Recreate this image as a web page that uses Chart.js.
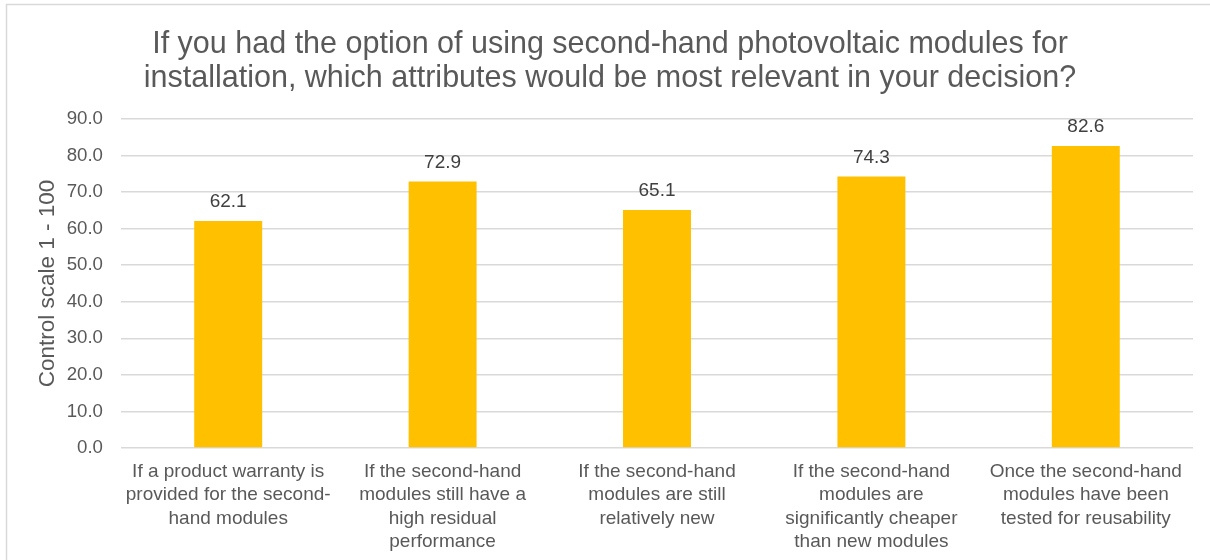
<!DOCTYPE html>
<html>
<head>
<meta charset="utf-8">
<script src="https://cdn.jsdelivr.net/npm/chart.js@4/dist/chart.umd.min.js"></script>
<style>
  html, body { margin: 0; padding: 0; background: #fff; }
  #wrap { width: 1210px; height: 560px; position: relative; }
</style>
</head>
<body>
<div id="wrap"><canvas id="c" width="1210" height="560"></canvas></div>
<script>
const titleLines = [
  "If you had the option of using second-hand photovoltaic modules for",
  "installation, which attributes would be most relevant in your decision?"
];
const categories = [
  ["If a product warranty is", "provided for the second-", "hand modules"],
  ["If the second-hand", "modules still have a", "high residual", "performance"],
  ["If the second-hand", "modules are still", "relatively new"],
  ["If the second-hand", "modules are", "significantly cheaper", "than new modules"],
  ["Once the second-hand", "modules have been", "tested for reusability"]
];
const values = [62.1, 72.9, 65.1, 74.3, 82.6];
const yAxisTitle = "Control scale 1 - 100";
const yMin = 0, yMax = 90, yStep = 10;

const FONT = "'Liberation Sans', Arial, sans-serif";

const framePlugin = {
  id: 'frame',
  beforeDraw(chart) {
    const ctx = chart.ctx;
    ctx.save();
    ctx.fillStyle = '#ffffff';
    ctx.fillRect(0, 0, chart.width, chart.height);
    ctx.strokeStyle = '#d9d9d9';
    ctx.lineWidth = 1.5;
    ctx.beginPath();
    ctx.moveTo(6.5, chart.height);
    ctx.lineTo(6.5, 4.5);
    ctx.lineTo(chart.width, 4.5);
    ctx.stroke();
    ctx.restore();
  }
};

const labelPlugin = {
  id: 'valueLabels',
  afterDatasetsDraw(chart) {
    const ctx = chart.ctx;
    const meta = chart.getDatasetMeta(0);
    ctx.save();
    ctx.font = "19px " + FONT;
    ctx.fillStyle = '#404040';
    ctx.textAlign = 'center';
    ctx.textBaseline = 'middle';
    meta.data.forEach((bar, i) => {
      ctx.fillText(values[i].toFixed(1), bar.x, bar.y - 19);
    });
    ctx.restore();
  }
};

new Chart(document.getElementById('c'), {
  type: 'bar',
  data: {
    labels: categories,
    datasets: [{
      data: values,
      backgroundColor: '#ffc000',
      borderWidth: 0,
      categoryPercentage: 1.0,
      barPercentage: 0.317
    }]
  },
  options: {
    responsive: false,
    animation: false,
    devicePixelRatio: 1,
    layout: { padding: { top: 0, right: 17, bottom: 0, left: 27 } },
    plugins: {
      legend: { display: false },
      tooltip: { enabled: false },
      title: {
        display: true,
        text: titleLines,
        color: '#595959',
        font: { family: FONT, size: 30.5, weight: 'normal', lineHeight: 1.115 },
        padding: { top: 28, bottom: 23 }
      }
    },
    scales: {
      x: {
        afterFit(scale) { scale.height = 112; },
        grid: { display: false, drawTicks: false },
        border: { display: false },
        ticks: {
          color: '#595959',
          font: { family: FONT, size: 19, lineHeight: 1.23 },
          maxRotation: 0,
          minRotation: 0,
          autoSkip: false,
          padding: 12
        }
      },
      y: {
        min: yMin,
        max: yMax,
        afterFit(scale) { scale.width = 94; },
        grid: { color: '#d9d9d9', lineWidth: 1.5, drawTicks: false },
        border: { display: false },
        ticks: {
          stepSize: yStep,
          color: '#595959',
          font: { family: FONT, size: 18.7 },
          padding: 18,
          callback: v => v.toFixed(1)
        },
        title: {
          display: true,
          text: yAxisTitle,
          color: '#595959',
          font: { family: FONT, size: 22.5, weight: 'normal' },
          padding: { top: 7, bottom: 0 }
        }
      }
    }
  },
  plugins: [framePlugin, labelPlugin]
});
</script>
</body>
</html>
